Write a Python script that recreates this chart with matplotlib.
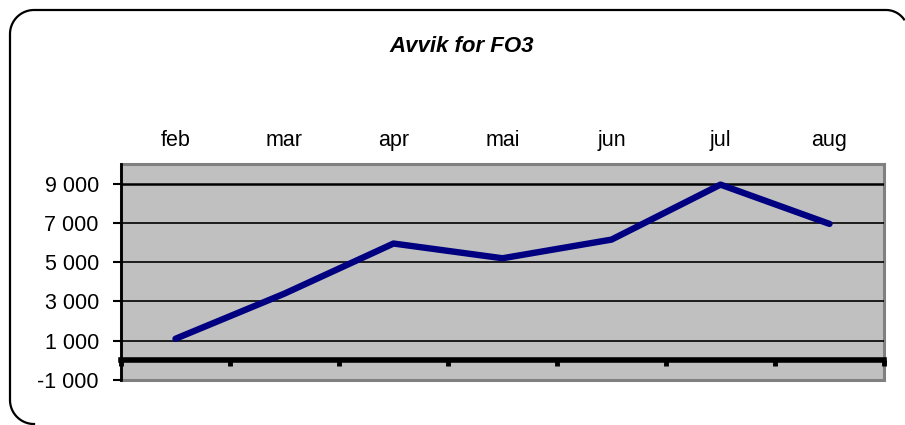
import numpy as np
import matplotlib.pyplot as plt
from matplotlib.lines import Line2D
from matplotlib.patches import Rectangle
from matplotlib.ticker import FuncFormatter, FixedLocator

plt.rcParams['font.family'] = ['Liberation Sans', 'DejaVu Sans']

months = ['feb', 'mar', 'apr', 'mai', 'jun', 'jul', 'aug']
avvik = [1100, 3400, 5950, 5200, 6150, 8950, 6950]
y_ticks = [-1000, 1000, 3000, 5000, 7000, 9000]

W, H = 905, 425
fig = plt.figure(figsize=(W / 100, H / 100), dpi=100)
fig.patch.set_facecolor('white')


def arc(cx, cy, r, a0, a1):
    t = np.radians(np.linspace(a0, a1, 30))
    return list(zip(cx + r * np.cos(t), cy - r * np.sin(t)))


# rounded chart border, kept inside the canvas (it runs off right/bottom)
pts = (arc(34, 400, 24, 270, 180) + arc(34, 34, 24, 180, 90)
       + arc(886, 32, 22, 90, 35))
pts = [(min(px, W - 0.5), min(py, H - 0.5)) for px, py in pts]
fig.add_artist(Line2D([p[0] / W for p in pts], [1 - p[1] / H for p in pts],
                      transform=fig.transFigure, color='black', linewidth=1.6,
                      solid_joinstyle='round'))

ax = fig.add_axes([121 / W, 45 / H, (884 - 121) / W, (380 - 164) / H])
ax.set_facecolor('#c0c0c0')

x = list(range(len(months)))
ax.plot(x, avvik, color='#000080', linewidth=4.6, solid_capstyle='round',
        solid_joinstyle='round', zorder=4)

ax.set_xlim(-0.5, len(months) - 0.5)
ax.set_ylim(-1000, 10000)

# gridlines
for v in y_ticks[1:]:
    ax.axhline(v, color='black', linewidth=1.2 if v < 9000 else 1.8, zorder=2)

# y axis
ax.yaxis.set_major_locator(FixedLocator(y_ticks))
ax.yaxis.set_major_formatter(FuncFormatter(lambda v, p: f"{v:,.0f}".replace(',', ' ')))
ax.tick_params(axis='y', length=6, width=1.5, color='black', pad=10, labelsize=15.5)

# category labels on top, boundary ticks on the zero line
ax.set_xticks(x)
ax.set_xticklabels(months)
ax.set_xticks([i - 0.5 for i in range(len(months) + 1)], minor=True)
ax.tick_params(axis='x', which='major', top=False, bottom=False,
               labeltop=True, labelbottom=False, pad=6, labelsize=15.5)
ax.tick_params(axis='x', which='minor', bottom=True, top=False, direction='out',
               length=4, width=3.5, color='black')

ax.spines['bottom'].set_position(('data', 0))
ax.spines['bottom'].set_linewidth(4)
ax.spines['bottom'].set_color('black')
ax.spines['bottom'].set_zorder(3)
ax.spines['left'].set_linewidth(2)
ax.spines['left'].set_color('black')
ax.spines['top'].set_visible(False)
ax.spines['right'].set_visible(False)

# gray plot-area frame
frame = Rectangle((0, 0), 1, 1, transform=ax.transAxes, facecolor='none',
                  edgecolor='#808080', linewidth=2.2, zorder=1.5, clip_on=False)
ax.add_patch(frame)

fig.text(462 / W, 1 - 46 / H, 'Avvik for FO3', ha='center', va='center',
         fontsize=16, fontweight='bold', fontstyle='italic')

fig.savefig('out.png', dpi=100)
